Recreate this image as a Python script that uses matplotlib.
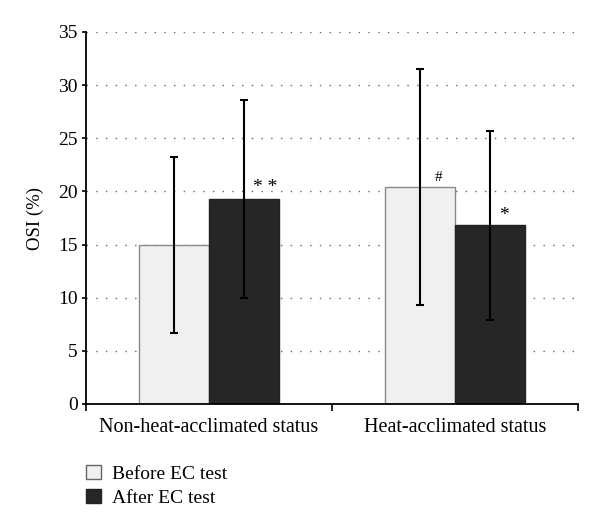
import matplotlib
matplotlib.use("Agg")
import matplotlib.pyplot as plt
from matplotlib.patches import Patch
import numpy as np

categories = ["Non-heat-acclimated status", "Heat-acclimated status"]
series_names = ["Before EC test", "After EC test"]
before_vals = [15.0, 20.4]
after_vals = [19.3, 16.8]
before_err_low = [6.7, 9.3]
before_err_high = [23.2, 31.5]
after_err_low = [10.0, 7.9]
after_err_high = [28.6, 25.7]
after_marks = ["* *", "*"]
before_marks = ["", "#"]
yticks = [0, 5, 10, 15, 20, 25, 30, 35]

plt.rcParams['font.family'] = ['Liberation Serif', 'DejaVu Serif']

fig = plt.figure(figsize=(6.0, 5.3), dpi=100)
ax = fig.add_axes([86/600, 1-404/530, (578-86)/600, (404-32)/530])

x = np.arange(len(categories))
w = 0.285
before_c = "#f0f0f0"
after_c = "#262626"

ax.bar(x - w/2, before_vals, w, color=before_c, edgecolor="#8a8a8a", linewidth=1.0, zorder=2)
ax.bar(x + w/2, after_vals, w, color=after_c, edgecolor="#222222", linewidth=1.0, zorder=2)

bv = np.array(before_vals); av = np.array(after_vals)
ax.errorbar(x - w/2, bv, yerr=[bv - np.array(before_err_low), np.array(before_err_high) - bv],
            fmt="none", ecolor="black", elinewidth=1.5, capsize=2.7, capthick=1.5, zorder=3)
ax.errorbar(x + w/2, av, yerr=[av - np.array(after_err_low), np.array(after_err_high) - av],
            fmt="none", ecolor="black", elinewidth=1.5, capsize=2.7, capthick=1.5, zorder=3)

# significance marks
ax.text(x[0] + w/2 + 0.085, after_vals[0] + 1.05, after_marks[0], ha="center", va="center", fontsize=14)
ax.text(x[1] + w/2 + 0.057, after_vals[1] + 0.95, after_marks[1], ha="center", va="center", fontsize=14)
ax.text(x[1] - w/2 + 0.074, before_vals[1] + 0.95, before_marks[1], ha="center", va="center", fontsize=11)

ax.set_xlim(-0.5, 1.5)
ax.set_ylim(0, 35)
ax.set_yticks(yticks)
ax.set_yticklabels([str(t) for t in yticks], fontsize=14)
ax.yaxis.grid(True, linestyle=(0, (1, 6)), color="#666666", linewidth=1.0)
ax.set_axisbelow(True)
ax.set_xticks([])
for i, c in enumerate(categories):
    ax.text(x[i], -2.2, c, ha="center", va="center", fontsize=14.5,
            transform=ax.transData, clip_on=False)
ax.set_xticks([-0.5, 0.5, 1.5], minor=True)
ax.tick_params(axis="x", which="minor", length=5, width=1.2, direction="out")
ax.tick_params(axis="y", length=3, width=1.2, direction="out", pad=3)
for s in ["top", "right"]:
    ax.spines[s].set_visible(False)
for s in ["left", "bottom"]:
    ax.spines[s].set_linewidth(1.3)
ax.set_ylabel("OSI (%)", fontsize=13.5, labelpad=10)

handles = [Patch(facecolor=before_c, edgecolor="#666666", label=series_names[0]),
           Patch(facecolor=after_c, edgecolor="#222222", label=series_names[1])]
fig.legend(handles=handles, loc="upper left", bbox_to_anchor=(86/600, 1-465/530),
           frameon=False, fontsize=14, handlelength=0.75, handleheight=0.75,
           handletextpad=0.6, labelspacing=0.32, borderaxespad=0, borderpad=0)

fig.savefig("out.png", dpi=100)
